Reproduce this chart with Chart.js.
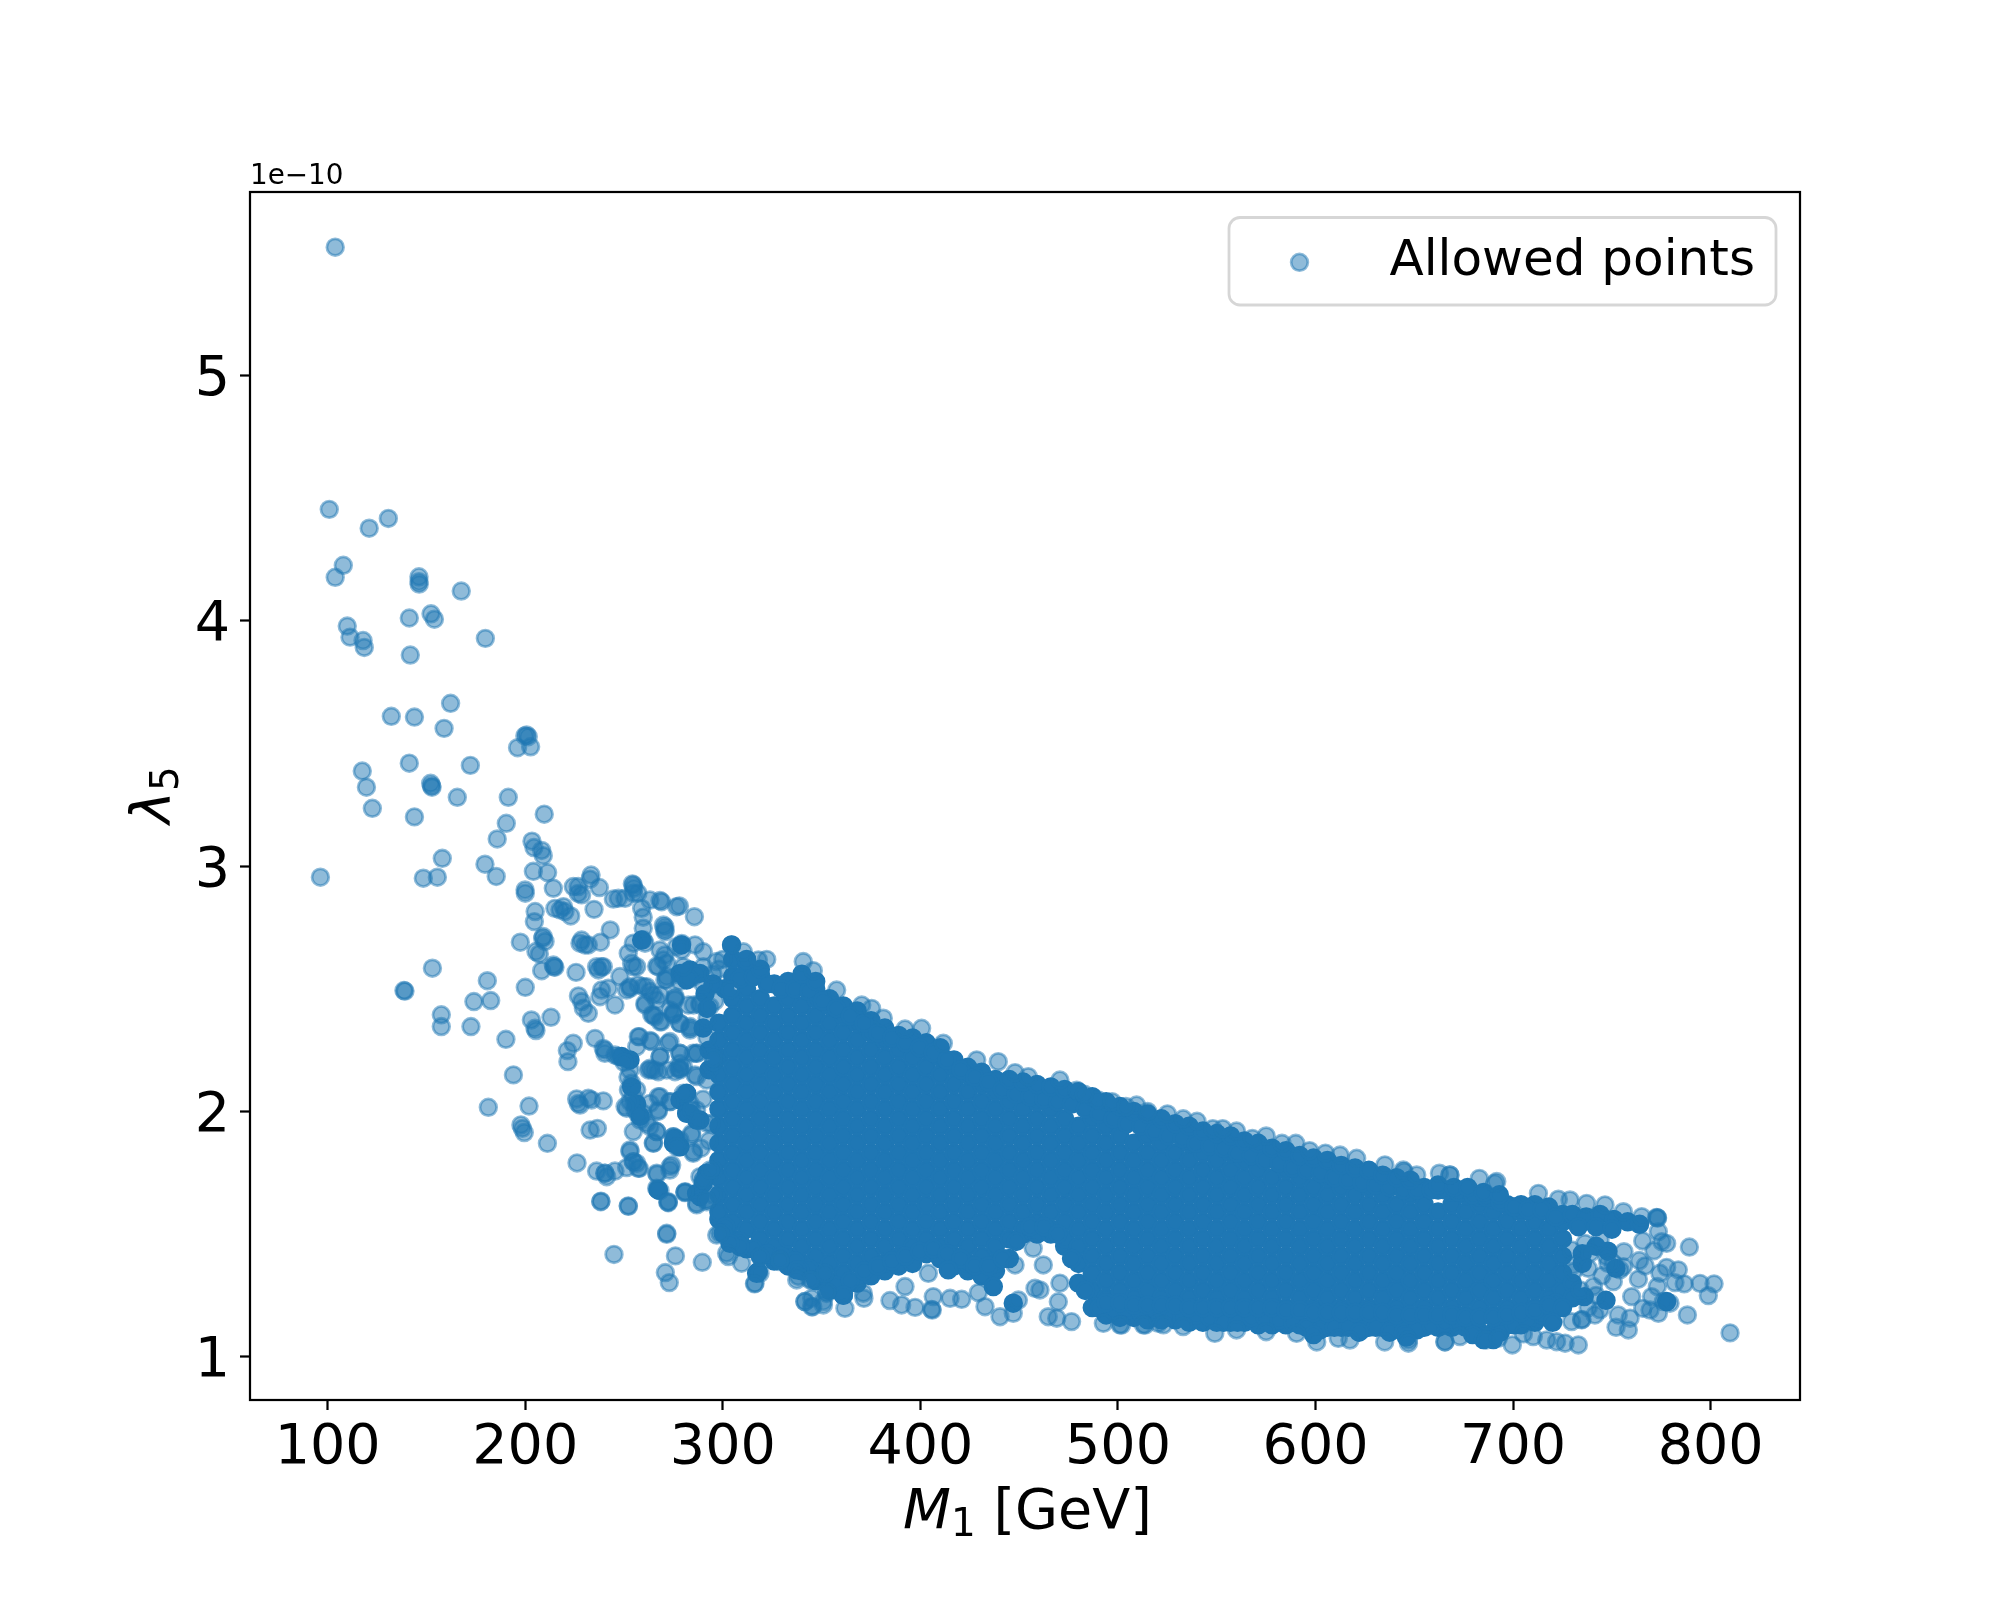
<!DOCTYPE html>
<html><head><meta charset="utf-8">
<style>html,body{margin:0;padding:0;background:#fff}canvas{display:block}</style>
<script src="https://cdn.jsdelivr.net/npm/chart.js@4"></script>
</head><body><canvas id="c" width="2000" height="1600"></canvas>
<script>
const xTicks=[100,200,300,400,500,600,700,800];
const yTicks=[1,2,3,4,5];
const legendLabel="Allowed points";
const offsetLabel="1e\u221210";
// individually readable points [M1 in GeV, lambda5 in units of 1e-10]
const allowedPoints=[
[103.8,5.524],[100.8,4.455],[121,4.378],[130.7,4.418],[107.9,4.227],[103.8,4.178],[146.2,4.18],[146.2,4.16],[146.3,4.15],[167.6,4.122],[141.3,4.012],[152.3,4.029],[154,4.007],[179.8,3.929],[109.9,3.979],[111.3,3.934],[117.9,3.92],[118.5,3.892],[141.8,3.861],
[162.2,3.664],[132.2,3.611],[143.9,3.608],[158.9,3.562],[200.7,3.535],[199.8,3.531],[201.5,3.528],[196.1,3.483],[202.7,3.487],[141.3,3.42],[172.2,3.411],[117.5,3.388],[119.6,3.322],[152.1,3.338],[152.6,3.327],[152.8,3.322],[165.6,3.281],[191.4,3.281],[209.6,3.212],[122.6,3.236],[143.9,3.201],[190.4,3.175],[185.8,3.111],[203.4,3.102],[204.4,3.076],[208.3,3.064],[209.1,3.043],[158,3.032],[179.6,3.008],[155.5,2.955],[148.4,2.951],[96.3,2.955],[185.3,2.958],[204.1,2.979],[211.3,2.974],[199.9,2.903],[200,2.89],[214.2,2.91],[224.3,2.917],[226.8,2.917],[228.5,2.883],[226.8,2.889],[233.3,2.964],[232.8,2.947],[237.5,2.913],[244.6,2.866],[247.1,2.869],[250.5,2.869],[254.2,2.928],[255,2.91],[254.7,2.89],[257,2.89],[263.1,2.862],[268.2,2.86],[269,2.855],[276.6,2.835],[234.8,2.824],[205,2.815],[204.6,2.774],[215,2.828],[219.3,2.835],[217.6,2.822],[220.1,2.815],[223,2.797],[258.9,2.828],[259.7,2.792],[269.9,2.76],[270.7,2.74],[243,2.74],[238.1,2.69],[228.5,2.699],[227.7,2.686],[230.2,2.679],[231.9,2.679],[197.5,2.69],[209.1,2.713],[208.8,2.706],[210,2.693],[205.4,2.652],[207.1,2.642],[214.2,2.597],[214.5,2.59],[215,2.588],[208.3,2.574],[153,2.584],[225.7,2.567],[236.1,2.59],[237,2.577],[238.6,2.59],[139.1,2.491],[138.6,2.493],[180.8,2.533],[200,2.506],[174,2.448],[182.5,2.452],[157.5,2.394],[157.5,2.346],[172.5,2.346],[203.1,2.373],[213,2.384],[204.9,2.339],[226.9,2.471],[228.5,2.448],[229.4,2.421],[231.9,2.4],[245.4,2.434],[237.8,2.468],
[242,2.502],[247.9,2.55],[253.8,2.604],[254.7,2.59],[253,2.509],[259.7,2.7],[260.6,2.686],[261.4,2.509],[263.1,2.489],[268.2,2.475],[260.6,2.434],[264,2.394],[269.9,2.618],[271.6,2.604],[267.3,2.59],[271.6,2.55],[259.7,2.747],[275,2.4],[254.7,2.686],[276.6,2.672],[251.3,2.495],[257.2,2.516],[275.8,2.455],[269,2.366],
[190.2,2.294],[205.4,2.33],[194,2.149],[181.3,2.017],[201.9,2.022],[197.8,1.945],[198.5,1.931],[199.5,1.914],[211.2,1.87],[226.2,1.79],[238.2,1.632],[238.3,1.634],[252.2,1.613],[244.9,1.417],[271.6,1.503],[271.6,1.499],[276,1.411],[289.6,1.385],[270.9,1.343],[272.9,1.302],[224.3,2.278],[221.3,2.248],[221.6,2.203],[235.3,2.298],[239.5,2.257],[240.3,2.237],[226,2.051],[227.7,2.026],[231.9,2.054],[239.5,2.043],[233.6,2.047],[226.8,2.033],[232.8,1.924],[236.5,1.931],[236.1,1.757],[240.3,1.748],[241.2,1.734],[245.4,1.757],[251.3,1.771],[254.7,1.795],[253,1.836],[257.7,1.768],[256.4,1.789],[266.8,1.744],[267.3,1.68],[266.5,1.687],[268.2,1.677],[267,1.684],[272.1,1.63],[280.8,1.669],[280.9,1.671],[286.7,1.625],[273.2,1.761],[274.1,1.782],[264.8,1.87],[264.9,1.872],[254.7,1.918],[266.5,1.918],[274.9,1.897],[277.5,1.856],[278.3,1.884],[284.2,1.904],[285.1,1.836],
[248,2.223],[251.3,2.21],[253.8,2.115],[254.7,2.06],[255.5,2.006],[258.1,1.965],[261.4,1.952],[245.4,2.23],[253,2.169],[252.2,2.088],[251.3,2.013],[256.4,2.088],[259.7,1.992],[247,2.225],[250,2.2],[252,2.14],[255,2.03],[257,1.99],[253,2.04],[257.7,2.305],[263.1,2.289],[268.2,2.223],[264,2.169],[267.3,2.162],[277.5,2.176],[280,2.183],[273.2,2.285],[278.3,2.237],[285,2.237],[268.2,2.06],[267.3,2.006],[273.2,2.04],[280.8,2.067],[283.4,2.033],[286.7,2.006],[281.7,1.992],[291.8,1.952],[291.8,2.128],[285.9,2.149],[260.6,2.441],[264.8,2.393],[268.2,2.366],[274.9,2.4],[283.4,2.339],[278.3,2.359],[295.2,1.761],[290.1,1.72],[291.8,1.639],
[296.9,1.496],[301.9,1.422],[309.5,1.381],[316.3,1.299],[318.8,1.34],[328.9,1.388],[338.2,1.327],[344.9,1.313],[341.5,1.225],[344.9,1.204],[350.8,1.225],[352.5,1.258],
[278,2.838],[285.6,2.794],[322.2,2.62],[340.7,2.611],[345.8,2.574],[357.6,2.495],[370.3,2.434],[375.3,2.42],[381.2,2.38],[392.2,2.336],[400.6,2.339],[411.6,2.278],[428.5,2.21],[439.4,2.203],[447.9,2.158],[454.6,2.142],[470.6,2.128],[479.1,2.087],[490,2.047],[509.4,2.026],
[457.1,1.442],[447.9,1.374],[458,1.279],[460.5,1.272],[406.5,1.245],[415,1.238],[420.9,1.234],[429.3,1.261],[440.3,1.163],[447,1.177],[449.6,1.231],[432.7,1.204],[464.7,1.163],[469,1.157],[476.5,1.143],[469.8,1.224],[462.2,1.374],[470.6,1.3],[492.6,1.136],[501.8,1.129],[513.7,1.129],[520.4,1.136],
[341.6,1.225],[345,1.238],[345.5,1.204],[350.9,1.211],[352.6,1.265],[361.8,1.197],[371.4,1.238],[384.6,1.229],[390.5,1.211],[397.3,1.201],[406,1.19],[405.7,1.193],[316,1.297],[302.8,1.408],[318.8,1.408],[328.9,1.394],[344.1,1.313],[337.4,1.313],[351.7,1.34],[371.1,1.259],[392.2,1.286],[404,1.34],
[809.8,1.097],[789.2,1.447],[801.7,1.297],[794.6,1.299],[798.8,1.249],[788.2,1.17],[786.6,1.297],[783.6,1.354],[777.7,1.364],[774.3,1.34],[781.9,1.302],[779.4,1.218],[776,1.225],[773,1.286],[770.1,1.245],[765.6,1.197],[769.3,1.19],[773.5,1.177],[760,1.245],[763.4,1.316],[766.8,1.37],[763.9,1.392],[765.6,1.472],[771.3,1.432],[777.7,1.462],[775.2,1.469],[773.5,1.51],[773,1.567],[772.6,1.568],[773.1,1.565],[756.1,1.428],[754.1,1.354],[755.8,1.367],[750.7,1.381],[750.7,1.306],[758.3,1.109],[752.1,1.12],[759.2,1.157],[753.2,1.17],[744,1.191],[741.4,1.17],[734.7,1.15],[734.8,1.152],[729.6,1.143],[733,1.048],[726.3,1.055],[722,1.061],[717,1.068],[710.2,1.082],[705.2,1.093],[699.6,1.048],
[728.8,1.639],[737.2,1.625],[746.5,1.619],[755.8,1.591],[765.1,1.571],[722.9,1.642],[712.8,1.666],[691.7,1.714],[682.9,1.727],[668,1.741],[662.7,1.748],[644.8,1.755],[729.6,1.435],[730.5,1.374],[736.4,1.462],[744,1.476],[738.9,1.422],[747.3,1.408],[733.9,1.272],[730.5,1.347],[740.6,1.286],[738,1.36],[745,1.33],[748,1.38],[738,1.2],[742,1.25],
[665.5,1.061],[673.1,1.082],[647,1.068],[686.3,1.068],[692.5,1.075],
[270.7,2.753],[270.7,2.733],[279.2,2.685],[279.2,2.658],[285.9,2.679],[290.1,2.651],[304.5,2.679],[310.4,2.651],[318,2.618],[285.1,2.55],[278.3,2.556],[290.1,2.59],[296.9,2.611],[303.6,2.495],[275.8,2.461],[271.6,2.536],[275,2.393],[283.4,2.346],[288.4,2.441],[285.1,2.434],[278.3,2.237],[286.8,2.237],[278.3,2.169],[271.6,2.169],[275.8,2.162],[286.8,2.142],[295.2,2.203],[280.9,1.673],[272.4,1.632],[286.8,1.619],[291.8,1.632],[275,1.897],[276.6,1.856],[284.2,1.911],[280,2.074],[273.3,2.04],[284.2,2.006],[287.6,1.965],[273.3,1.775],[288.4,1.734],[290.1,1.721],[293.5,1.761],
[281.7,2.57],[286.8,2.56],[278.3,2.53],[283,2.54],[280,2.59],[290,2.52],[295,2.56],[298,2.58],[300,2.62],[296,2.45],[292,2.38],[292,2.3],[290,2.05],[294,1.95],[293,1.88],[289,1.85],[295,1.66],
[525,1.99],[540,1.96],[560,1.92],[575,1.9],[590,1.87],[605,1.83],[612.4,1.822],[620.8,1.809],[635.1,1.782],[644.4,1.761],[651.2,1.741],[668,1.741],[690.8,1.707],[483,2.07],[497,2.04],[504,2.02],[515,2.0],[533,1.97],[548,1.93],[553,1.93],[568,1.89],[583,1.87],[597,1.84],
[501,1.13],[512.8,1.13],[523,1.13],[533,1.123],[549,1.095],[560,1.109],[575,1.102],[590.4,1.095],[600.6,1.06],[611.5,1.075],[617.4,1.068],[635,1.06],[647,1.055],[665.5,1.06],
[254.7,2.923],[252.1,2.645],[256.4,2.59],[238.6,2.495],[253,2.502],[259.7,2.509],[264.8,2.475],[266.5,2.454],[265.6,2.386],[239.5,2.59],[270.7,2.638],[268.2,2.658],[266.5,2.593],[275.8,2.468],[270.7,2.536],[273.2,2.414],[282.5,2.434],[288.4,2.434],[293.5,2.427],[278.3,2.359],[283.4,2.332],[257.2,2.305],[263.9,2.285],[256.4,2.264],[272.4,2.278],[240.3,2.25],[268.2,2.223],[278.3,2.196],[286.7,2.237],[263.1,2.176],[295.2,2.217],[265.6,2.169],[262.3,2.169],[278.3,2.176],[250.5,2.02],[267.3,2.06],[267.3,2],[263.1,2.033],[266.5,1.918],[263.1,1.938],[285,1.829],[266.5,1.748],[253,1.843],[254.7,1.795],[257.2,1.768],[240.3,1.748],[272.4,1.628],[252.1,1.615],[291.8,1.639],[298.5,1.503]
];
// saturated mass of overlapping points: [M1, list of lambda5 values]
const denseColumns=[
[298,[1.56,1.59,1.66,1.73,1.8,1.87,1.94,2.01,2.08,2.15,2.22,2.29,2.36]],
[305,[1.48,1.55,1.62,1.69,1.76,1.83,1.9,1.97,2.04,2.11,2.18,2.25,2.32,2.39,2.46,2.55]],
[312,[1.44,1.52,1.59,1.66,1.73,1.8,1.87,1.94,2.01,2.08,2.15,2.22,2.29,2.36,2.43,2.5,2.58]],
[319,[1.41,1.48,1.55,1.62,1.69,1.76,1.83,1.9,1.97,2.04,2.11,2.18,2.25,2.32,2.39,2.46,2.56]],
[326,[1.39,1.45,1.52,1.59,1.66,1.73,1.8,1.87,1.94,2.01,2.08,2.15,2.22,2.29,2.36,2.43,2.52]],
[333,[1.37,1.41,1.48,1.55,1.62,1.69,1.76,1.83,1.9,1.97,2.04,2.11,2.18,2.25,2.32,2.39,2.46,2.53]],
[340,[1.35,1.38,1.45,1.52,1.59,1.66,1.73,1.8,1.87,1.94,2.01,2.08,2.15,2.22,2.29,2.36,2.43,2.53]],
[347,[1.31,1.34,1.41,1.48,1.55,1.62,1.69,1.76,1.83,1.9,1.97,2.04,2.11,2.18,2.25,2.32,2.39,2.46,2.5]],
[354,[1.27,1.31,1.38,1.45,1.52,1.59,1.66,1.73,1.8,1.87,1.94,2.01,2.08,2.15,2.22,2.29,2.36,2.43,2.46]],
[361,[1.25,1.27,1.34,1.41,1.48,1.55,1.62,1.69,1.76,1.83,1.9,1.97,2.04,2.11,2.18,2.25,2.32,2.39,2.43]],
[368,[1.3,1.38,1.45,1.52,1.59,1.66,1.73,1.8,1.87,1.94,2.01,2.08,2.15,2.22,2.29,2.36,2.41]],
[375,[1.33,1.41,1.48,1.55,1.62,1.69,1.76,1.83,1.9,1.97,2.04,2.11,2.18,2.25,2.32,2.37]],
[382,[1.35,1.38,1.45,1.52,1.59,1.66,1.73,1.8,1.87,1.94,2.01,2.08,2.15,2.22,2.29,2.34]],
[389,[1.37,1.41,1.48,1.55,1.62,1.69,1.76,1.83,1.9,1.97,2.04,2.11,2.18,2.25,2.31]],
[396,[1.38,1.45,1.52,1.59,1.66,1.73,1.8,1.87,1.94,2.01,2.08,2.15,2.22,2.3]],
[403,[1.42,1.48,1.55,1.62,1.69,1.76,1.83,1.9,1.97,2.04,2.11,2.18,2.25,2.28]],
[410,[1.4,1.45,1.52,1.59,1.66,1.73,1.8,1.87,1.94,2.01,2.08,2.15,2.22,2.26]],
[417,[1.37,1.41,1.48,1.55,1.62,1.69,1.76,1.83,1.9,1.97,2.04,2.11,2.18,2.21]],
[424,[1.35,1.38,1.45,1.52,1.59,1.66,1.73,1.8,1.87,1.94,2.01,2.08,2.15,2.18]],
[431,[1.33,1.41,1.48,1.55,1.62,1.69,1.76,1.83,1.9,1.97,2.04,2.11,2.16]],
[438,[1.35,1.38,1.45,1.52,1.59,1.66,1.73,1.8,1.87,1.94,2.01,2.08,2.13]],
[445,[1.4,1.48,1.55,1.62,1.69,1.76,1.83,1.9,1.97,2.04,2.11]],
[452,[1.5,1.52,1.59,1.66,1.73,1.8,1.87,1.94,2.01,2.09]],
[459,[1.5,1.55,1.62,1.69,1.76,1.83,1.9,1.97,2.04,2.08]],
[466,[1.5,1.52,1.59,1.66,1.73,1.8,1.87,1.94,2.01,2.07]],
[473,[1.45,1.48,1.55,1.62,1.69,1.76,1.83,1.9,1.97,2.06]],
[480,[1.3,1.38,1.45,1.52,1.59,1.66,1.73,1.8,1.87,1.94,2.05]],
[487,[1.2,1.27,1.34,1.41,1.48,1.55,1.62,1.69,1.76,1.83,1.9,1.97,2.03]],
[494,[1.17,1.24,1.31,1.38,1.45,1.52,1.59,1.66,1.73,1.8,1.87,1.94,2.01]],
[501,[1.16,1.2,1.27,1.34,1.41,1.48,1.55,1.62,1.69,1.76,1.83,1.9,1.99]],
[508,[1.16,1.24,1.31,1.38,1.45,1.52,1.59,1.66,1.73,1.8,1.87,1.97]],
[515,[1.15,1.2,1.27,1.34,1.41,1.48,1.55,1.62,1.69,1.76,1.83,1.9,1.96]],
[522,[1.15,1.24,1.31,1.38,1.45,1.52,1.59,1.66,1.73,1.8,1.87,1.94]],
[529,[1.15,1.2,1.27,1.34,1.41,1.48,1.55,1.62,1.69,1.76,1.83,1.92]],
[536,[1.14,1.24,1.31,1.38,1.45,1.52,1.59,1.66,1.73,1.8,1.87,1.91]],
[543,[1.14,1.2,1.27,1.34,1.41,1.48,1.55,1.62,1.69,1.76,1.83,1.89]],
[550,[1.14,1.24,1.31,1.38,1.45,1.52,1.59,1.66,1.73,1.8,1.88]],
[557,[1.14,1.2,1.27,1.34,1.41,1.48,1.55,1.62,1.69,1.76,1.83,1.87]],
[564,[1.14,1.24,1.31,1.38,1.45,1.52,1.59,1.66,1.73,1.8,1.85]],
[571,[1.13,1.2,1.27,1.34,1.41,1.48,1.55,1.62,1.69,1.76,1.84]],
[578,[1.13,1.24,1.31,1.38,1.45,1.52,1.59,1.66,1.73,1.82]],
[585,[1.13,1.2,1.27,1.34,1.41,1.48,1.55,1.62,1.69,1.76,1.81]],
[592,[1.13,1.24,1.31,1.38,1.45,1.52,1.59,1.66,1.73,1.79]],
[599,[1.12,1.2,1.27,1.34,1.41,1.48,1.55,1.62,1.69,1.78]],
[606,[1.12,1.17,1.24,1.31,1.38,1.45,1.52,1.59,1.66,1.73,1.77]],
[613,[1.12,1.2,1.27,1.34,1.41,1.48,1.55,1.62,1.69,1.75]],
[620,[1.12,1.17,1.24,1.31,1.38,1.45,1.52,1.59,1.66,1.74]],
[627,[1.12,1.2,1.27,1.34,1.41,1.48,1.55,1.62,1.69,1.73]],
[634,[1.12,1.17,1.24,1.31,1.38,1.45,1.52,1.59,1.66,1.72]],
[641,[1.12,1.2,1.27,1.34,1.41,1.48,1.55,1.62,1.71]],
[648,[1.12,1.17,1.24,1.31,1.38,1.45,1.52,1.59,1.66,1.7]],
[655,[1.12,1.2,1.27,1.34,1.41,1.48,1.55,1.62,1.69]],
[662,[1.12,1.17,1.24,1.31,1.38,1.45,1.52,1.59,1.68]],
[669,[1.12,1.2,1.27,1.34,1.41,1.48,1.55,1.62,1.67]],
[676,[1.12,1.17,1.24,1.31,1.38,1.45,1.52,1.59,1.66]],
[683,[1.1,1.2,1.27,1.34,1.41,1.48,1.55,1.62,1.65]],
[690,[1.1,1.17,1.24,1.31,1.38,1.45,1.52,1.59,1.64]],
[697,[1.13,1.2,1.27,1.34,1.41,1.48,1.55,1.62]],
[704,[1.13,1.17,1.24,1.31,1.38,1.45,1.52,1.59,1.62]],
[711,[1.14,1.2,1.27,1.34,1.41,1.48,1.55,1.62]],
[718,[1.18,1.24,1.31,1.38,1.45,1.52,1.59,1.61]],
[725,[1.22,1.27,1.34,1.41,1.48,1.55,1.58]]
];
// saturated upper rim of the mass
const denseTop=[[301,2.5],[308.5,2.54],[315.5,2.55],[322.5,2.52],[329.5,2.5],[336.5,2.5],[343.5,2.49],[350.5,2.45],[357.5,2.42],[364.5,2.39],[371.5,2.36],[378.5,2.32],[385.5,2.3],[392.5,2.28],[399.5,2.26],[406.5,2.24],[413.5,2.21],[420.5,2.17],[427.5,2.14],[434.5,2.12],[441.5,2.09],[448.5,2.07],[455.5,2.06],[462.5,2.05],[469.5,2.04],[476.5,2.03],[483.5,2.01],[490.5,1.99],[497.5,1.97],[504.5,1.95],[511.5,1.94],[518.5,1.92],[525.5,1.9],[532.5,1.89],[539.5,1.87],[546.5,1.86],[553.5,1.85],[560.5,1.83],[567.5,1.82],[574.5,1.8],[581.5,1.79],[588.5,1.77],[595.5,1.76],[602.5,1.75],[609.5,1.73],[616.5,1.72],[623.5,1.71],[630.5,1.7],[637.5,1.69],[644.5,1.68],[651.5,1.68],[658.5,1.68],[665.5,1.68],[672.5,1.67],[679.5,1.66],[686.5,1.65],[693.5,1.63],[700.5,1.61],[707.5,1.6],[714.5,1.6],[721.5,1.57],
[662,1.7],[670,1.69],[677,1.69],[685,1.67],[693,1.66],[305,2.62],[312,2.62],[319,2.58],[340,2.56],[347,2.53],
[445,2.13],[452,2.12],[459,2.11],[466,2.1],[473,2.09],[480,2.08],[487,2.06],[494,2.04],[501,2.02],[508,2],[515,1.99],[522,1.97],[529,1.95],[536,1.94],[543,1.92],[550,1.91],[557,1.9],[564,1.88],[571,1.87],[578,1.85],[585,1.84],[592,1.82],[599,1.81],[606,1.8],[613,1.78],[620,1.77],[627,1.76],[634,1.74],[641,1.73],[648,1.72]];
// saturated lower rim of the mass
const denseBottom=[[301.5,1.53],[308.5,1.47],[315.5,1.44],[322.5,1.42],[329.5,1.41],[336.5,1.39],[343.5,1.36],[350.5,1.32],[357.5,1.29],[364.5,1.31],[371.5,1.35],[378.5,1.37],[385.5,1.39],[392.5,1.41],[399.5,1.43],[406.5,1.44],[413.5,1.42],[420.5,1.4],[427.5,1.37],[434.5,1.37],[441.5,1.4],[448.5,1.47],[455.5,1.53],[462.5,1.53],[469.5,1.5],[476.5,1.4],[483.5,1.27],[490.5,1.2],[497.5,1.19],[504.5,1.19],[511.5,1.18],[518.5,1.18],[525.5,1.18],[532.5,1.16],[539.5,1.17],[546.5,1.16],[553.5,1.14],[560.5,1.14],[567.5,1.16],[574.5,1.16],[581.5,1.15],[588.5,1.14],[595.5,1.12],[602.5,1.11],[609.5,1.12],[616.5,1.12],[623.5,1.11],[630.5,1.12],[637.5,1.1],[644.5,1.1],[651.5,1.11],[658.5,1.13],[665.5,1.14],[672.5,1.13],[679.5,1.09],[686.5,1.08],[693.5,1.1],[700.5,1.13],[707.5,1.15],[714.5,1.17],[721.5,1.22],
[599,1.09],[622,1.1],[646,1.08],[685,1.07],[690,1.07],
[494,1.22],[501,1.22],[508,1.21],[515,1.21],[522,1.21],[529,1.21],[536,1.2],[543,1.2],[550,1.2],[557,1.2],[564,1.2],[571,1.2],[578,1.2],[585,1.19],[592,1.19],[599,1.18],[606,1.18],[613,1.18],[620,1.18],[627,1.18],[634,1.18],[641,1.17],[648,1.17],[655,1.17],[662,1.17],[669,1.17],[676,1.16],[683,1.16],[690,1.16],[697,1.17],[704,1.18],[711,1.19],[718,1.21]];
// heavily overlapped clumps around the mass
const denseClumps=[[248.8,2.224],[253,2.21],[253.8,2.1],[256.4,2.03],[258.1,1.98],[283.4,1.992],[281.7,2.074],[288.4,1.965],[267.3,1.68],[283.4,2.577],[281.7,2.536],[288.4,2.563],[258.9,2.699],[279.1,2.679],[304.4,2.679],[278.3,1.856],[275.8,1.89],[290.1,1.707],[291.8,1.748],[286.7,1.666],[278.3,2.047],[281.7,1.992],[300.2,1.503],[308.7,1.449],[317.9,1.347],[339,1.354],[275,1.87],[285.1,2.563],[278.3,2.563],[312,2.618],[276.6,1.87],[288.4,1.653],[286.8,1.965],[317.1,1.34],[303.6,1.462],[361,1.252],[337.4,1.354],[414.1,1.354],[436.9,1.286],[447,1.218],[730,1.58],[737,1.57],[744,1.58],[751,1.56],[758,1.55],[764,1.54],[733,1.53],[742,1.53],[750,1.52],[752,1.36],[777.7,1.225],[747,1.23],[736,1.245],[735,1.42],[742,1.45],[748,1.43],[735,1.38],[730,1.3],[730,1.24],[725,1.2],[720,1.14],[290,2.34],[292,2.42],[291,2.48],[295,2.52],[293,2.25],[293,2.17]];
const C='#1f77b4', CA='rgba(31,119,180,0.5)';
const FONT='"DejaVu Sans"';
const pts=allowedPoints.map(p=>({x:p[0],y:p[1]}));
const dense=[];
denseColumns.forEach(c=>c[1].forEach(y=>dense.push({x:c[0],y})));
denseTop.concat(denseBottom,denseClumps).forEach(p=>dense.push({x:p[0],y:p[1]}));

const deco={id:'deco',
 afterDraw(ch){
  const g=ch.ctx,a=ch.chartArea;
  g.save();
  g.strokeStyle='#000';g.lineWidth=2.22;
  g.strokeRect(a.left,a.top,a.right-a.left,a.bottom-a.top);
  g.fillStyle='#000';g.textBaseline='alphabetic';g.textAlign='left';
  g.font='27.8px '+FONT;
  g.fillText(offsetLabel,250,184);
  g.fillStyle='rgba(255,255,255,0.8)';g.strokeStyle='rgba(204,204,204,0.8)';g.lineWidth=2.78;
  g.beginPath();g.roundRect(1229,217.5,547,87.5,11);g.fill();g.stroke();
  g.fillStyle=CA;g.strokeStyle=CA;g.lineWidth=2.78;
  g.beginPath();g.arc(1299.5,262.3,8.33,0,Math.PI*2);g.fill();g.stroke();
  g.fillStyle='#000';g.font='50px '+FONT;
  g.fillText(legendLabel,1389.5,275);
  const draw=(parts,cx,cy,rot)=>{
   g.save();g.translate(cx,cy);g.rotate(rot);
   let w=0;parts.forEach(p=>{g.font=p[1]+' '+p[2]+'px '+FONT;w+=g.measureText(p[0]).width;});
   let x=-w/2;
   parts.forEach(p=>{g.font=p[1]+' '+p[2]+'px '+FONT;g.fillText(p[0],x,p[3]);x+=g.measureText(p[0]).width;});
   g.restore();
  };
  draw([['M','italic',55.56,0],['1','normal',38.9,8],[' [GeV]','normal',55.56,0]],1027.5,1528,0);
  draw([['\u03bb','italic',55.56,0],['5','normal',38.9,8]],170,795,-Math.PI/2);
  g.restore();
 }};

new Chart(document.getElementById('c'),{
 type:'scatter',
 plugins:[deco],
 data:{datasets:[
  {label:legendLabel,data:pts,backgroundColor:CA,borderColor:CA,borderWidth:2.78,pointRadius:8.33,pointHoverRadius:8.33},
  {label:'dense',data:dense,backgroundColor:C,borderColor:C,borderWidth:2.78,pointRadius:8.33,pointHoverRadius:8.33}
 ]},
 options:{
  responsive:false,animation:false,devicePixelRatio:1,
  layout:{padding:{left:0,top:192,right:200,bottom:0}},
  plugins:{legend:{display:false},tooltip:{enabled:false},title:{display:false}},
  events:[],
  scales:{
   x:{type:'linear',min:60.67,max:845.2,
    afterFit(s){s.height=200;},
    afterBuildTicks(s){s.ticks=xTicks.map(v=>({value:v}));},
    border:{display:false},
    grid:{drawOnChartArea:false,drawTicks:true,tickLength:10,tickColor:'#000',tickWidth:2.22},
    ticks:{font:{family:'DejaVu Sans',size:55.56},color:'#000',padding:5,maxRotation:0,autoSkip:false,callback:v=>String(v)}},
   y:{type:'linear',min:0.8234,max:5.749,
    afterFit(s){s.width=250;},
    afterBuildTicks(s){
     s.ticks=yTicks.map(v=>({value:v}));
     if(!s._shifted){const f=s._computeLabelItems;s._computeLabelItems=function(c){const it=f.call(this,c);it.forEach(i=>{i.textOffset+=5;});return it;};s._shifted=true;}
    },
    border:{display:false},
    grid:{drawOnChartArea:false,drawTicks:true,tickLength:10,tickColor:'#000',tickWidth:2.22},
    ticks:{font:{family:'DejaVu Sans',size:55.56},color:'#000',padding:10,autoSkip:false,callback:v=>String(v)}}
  }
 }
});
</script></body></html>
